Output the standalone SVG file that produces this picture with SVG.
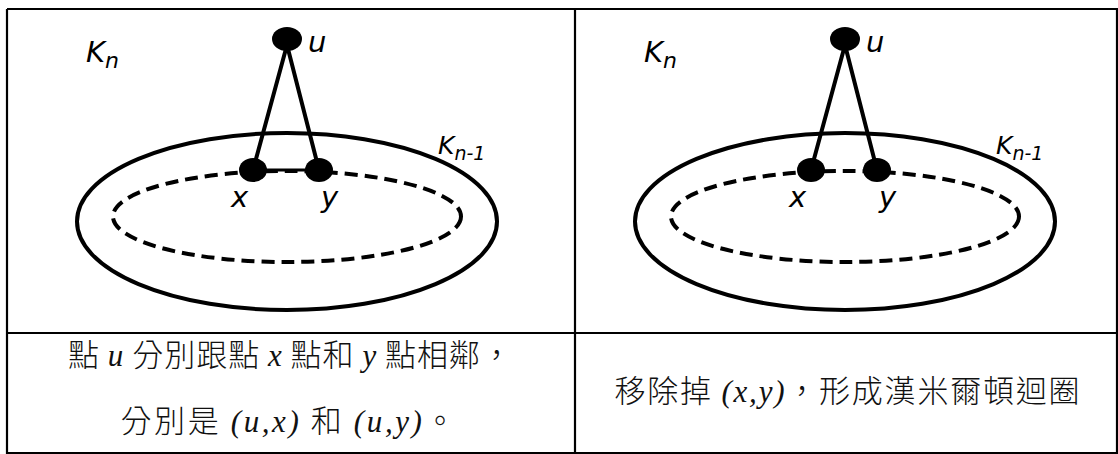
<svg xmlns="http://www.w3.org/2000/svg" width="1118" height="454" viewBox="0 0 1118 454">
<style>
.border{fill:none;stroke:#000;stroke-width:2.2}
.ell{fill:none;stroke:#000;stroke-width:4}
.dash{fill:none;stroke:#000;stroke-width:4;stroke-dasharray:13 7}
.edge{stroke:#000;stroke-width:4;stroke-linecap:round}
.edge2{stroke:#000;stroke-width:3}
.dot{fill:#000}
.lab{font-family:"DejaVu Sans",sans-serif;font-style:italic;font-size:29px;fill:#000}
.lab2{font-family:"DejaVu Sans",sans-serif;font-style:italic;font-size:25px;fill:#000}
.cap{font-family:"Noto Sans CJK TC","Noto Sans CJK SC",sans-serif;font-size:31px;font-weight:300;fill:#111}
.m{font-family:"Liberation Serif",serif;font-style:italic;font-weight:normal}
</style>
<rect width="1118" height="454" fill="#fff"/>
<g id="table">
<line x1="7" y1="9" x2="1118" y2="9" class="border"/>
<line x1="7" y1="9" x2="7" y2="454" class="border"/>
<line x1="1117" y1="9" x2="1117" y2="454" class="border"/>
<line x1="7" y1="453" x2="1118" y2="453" class="border"/>
<line x1="575" y1="9" x2="575" y2="454" class="border"/>
<line x1="7" y1="333" x2="1118" y2="333" class="border"/>
</g>
<g id="panel-left">
<g id="sets-left">
<ellipse cx="287" cy="221.5" rx="210" ry="88.5" class="ell"/>
<ellipse cx="287" cy="216.5" rx="174" ry="45.5" class="dash"/>
<text class="lab" x="86" y="62">K<tspan font-size="22" dy="6">n</tspan></text>
<text class="lab2" x="438" y="154">K<tspan font-size="19" dy="6">n-1</tspan></text>
</g>
<g id="connectors-left">
<line x1="287" y1="45" x2="253" y2="170" class="edge"/>
<line x1="287" y1="45" x2="319" y2="170" class="edge"/>
<line x1="253" y1="170" x2="319" y2="170" class="edge2"/>
</g>
<g id="node-u-left"><ellipse cx="287" cy="39" rx="15" ry="12" class="dot"/><text class="lab" x="308" y="52">u</text></g>
<g id="node-x-left"><ellipse cx="253" cy="170" rx="14" ry="12" class="dot"/><text class="lab" x="231" y="207">x</text></g>
<g id="node-y-left"><ellipse cx="319" cy="170" rx="14" ry="12" class="dot"/><text class="lab" x="321" y="207">y</text></g>
</g>
<g id="panel-right" transform="translate(558,0)">
<g id="sets-right">
<ellipse cx="287" cy="221.5" rx="210" ry="88.5" class="ell"/>
<ellipse cx="287" cy="216.5" rx="174" ry="45.5" class="dash"/>
<text class="lab" x="86" y="62">K<tspan font-size="22" dy="6">n</tspan></text>
<text class="lab2" x="438" y="154">K<tspan font-size="19" dy="6">n-1</tspan></text>
</g>
<g id="connectors-right">
<line x1="287" y1="45" x2="253" y2="170" class="edge"/>
<line x1="287" y1="45" x2="319" y2="170" class="edge"/>
</g>
<g id="node-u-right"><ellipse cx="287" cy="39" rx="15" ry="12" class="dot"/><text class="lab" x="308" y="52">u</text></g>
<g id="node-x-right"><ellipse cx="253" cy="170" rx="14" ry="12" class="dot"/><text class="lab" x="231" y="207">x</text></g>
<g id="node-y-right"><ellipse cx="319" cy="170" rx="14" ry="12" class="dot"/><text class="lab" x="321" y="207">y</text></g>
</g>
<g id="captions">
<text class="cap" x="290" y="366" text-anchor="middle" textLength="444" lengthAdjust="spacing">點 <tspan class="m">u</tspan> 分別跟點 <tspan class="m">x</tspan> 點和 <tspan class="m">y</tspan> 點相鄰，</text>
<text class="cap" x="288" y="432" text-anchor="middle" textLength="335" lengthAdjust="spacing">分別是 <tspan class="m">(u,x)</tspan> 和 <tspan class="m">(u,y)</tspan>。</text>
<text class="cap" x="847" y="402" text-anchor="middle" textLength="465" lengthAdjust="spacing">移除掉 <tspan class="m">(x,y)</tspan>，形成漢米爾頓迴圈</text>
</g>
</svg>
